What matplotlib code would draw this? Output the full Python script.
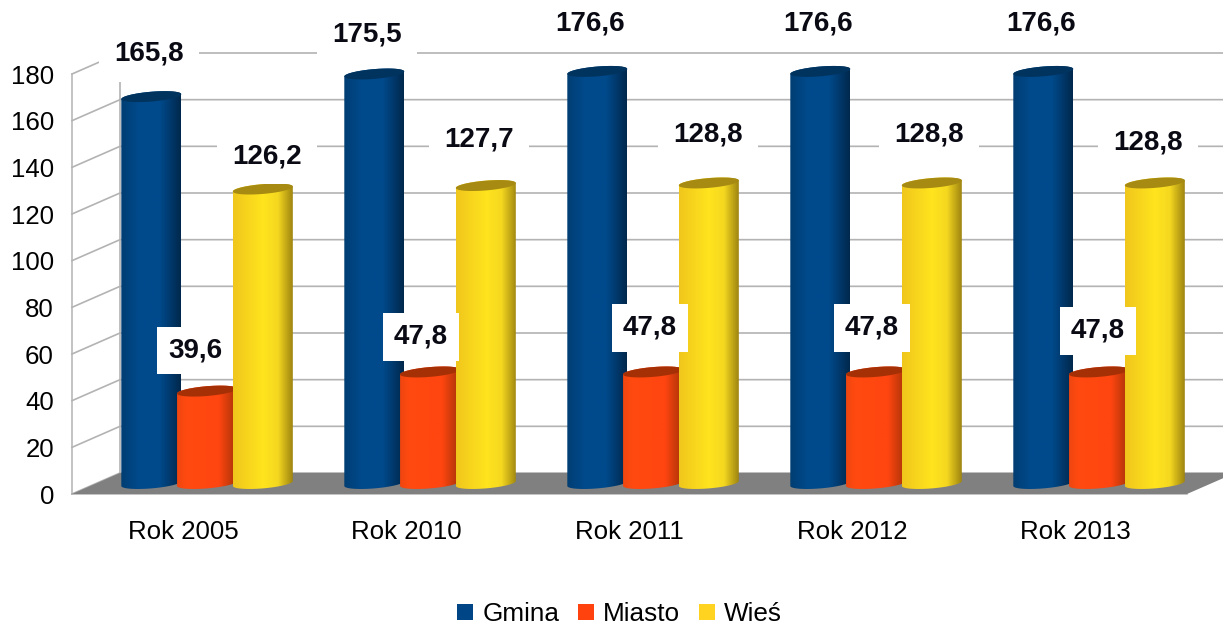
import numpy as np
import matplotlib
matplotlib.use('Agg')
import matplotlib.pyplot as plt
from matplotlib.colors import LinearSegmentedColormap
from matplotlib.patches import Patch, PathPatch, Polygon
from matplotlib.path import Path

plt.rcParams['font.family'] = ['Liberation Sans', 'DejaVu Sans']

categories = ['Rok 2005', 'Rok 2010', 'Rok 2011', 'Rok 2012', 'Rok 2013']
series_names = ['Gmina', 'Miasto', 'Wieś']
gmina = [165.8, 175.5, 176.6, 176.6, 176.6]
miasto = [39.6, 47.8, 47.8, 47.8, 47.8]
wies = [126.2, 127.7, 128.8, 128.8, 128.8]
y_ticks = [0, 20, 40, 60, 80, 100, 120, 140, 160, 180]

W, H = 1223, 625
GRID = '#b3b3b3'

# depth of the fake 3d box, in data units
DEPTH_X = 48 / 223
DEPTH_Y = 9.0
BAR_A = 30 / 223
BAR_B = 2.1
BAR_TILT = 1.05

legend_colors = ['#004586', '#ff420e', '#ffd320']
top_colors = ['#00345f', '#a63006', '#a68a12']
shades = [
    [(0, '#003e73'), (0.3, '#004a8c'), (0.65, '#004a8c'), (1, '#00284c')],
    [(0, '#ee4610'), (0.15, '#ff4a10'), (0.7, '#ff4510'), (1, '#a83408')],
    [(0, '#f0c61c'), (0.5, '#ffe41e'), (0.75, '#f5d820'), (1, '#9e8410')],
]

# label shift from the top of each cylinder, pixels (they wander in the original)
label_dx = [[-2, -7, -7, -2, -2], [-12, -9, -3, -4, -1], [4, -7, -1, -3, -7]]
label_dy = [[43, 40, 48, 48, 48], [41, 35, 44, 44, 41], [33, 46, 48, 48, 40]]
label_pad = [11, 7.5, 11]


def ellipse(cx, cy, t):
    x = cx + BAR_A * np.cos(t)
    y = cy + BAR_B * np.sin(t) + BAR_TILT * np.cos(t)
    return np.column_stack([x, y])


fig = plt.figure(figsize=(W / 100, H / 100), dpi=100)
ax = fig.add_axes([72 / W, 1 - 494 / H, (1187 - 72) / W, (494 - 74) / H])
ax.set_xlim(-0.5, 4.5)
ax.set_ylim(0, 180)

x_pos = np.arange(len(categories))
ax.set_xticks(x_pos)
ax.set_xticklabels(categories, fontsize=18.6)
ax.set_yticks(y_ticks)
ax.set_yticklabels([str(v) for v in y_ticks], fontsize=18.6)
ax.tick_params(axis='x', length=0, pad=19)
ax.tick_params(axis='y', length=0, pad=13)

for name in ['top', 'right']:
    ax.spines[name].set_visible(False)
for name in ['left', 'bottom']:
    ax.spines[name].set_color(GRID)
    ax.spines[name].set_linewidth(1.1)
    ax.spines[name].set_zorder(1)

# walls
x0 = -0.5
x1 = 4.5
for v in y_ticks:
    ax.plot([x0, x0 + DEPTH_X, x1 + DEPTH_X], [v, v + DEPTH_Y, v + DEPTH_Y],
            color=GRID, lw=1.2, clip_on=False, zorder=1)
ax.plot([x0 + DEPTH_X, x0 + DEPTH_X], [DEPTH_Y, 180 + DEPTH_Y], color=GRID, lw=1.2,
        clip_on=False, zorder=1)

# floor
ax.add_patch(Polygon([(x0, 0), (x1, 0), (x1 + DEPTH_X, DEPTH_Y), (x0 + DEPTH_X, DEPTH_Y)],
                     closed=True, facecolor='#808080', edgecolor='none',
                     clip_on=False, zorder=2))

# cylinders
all_series = [gmina, miasto, wies]
for s, values in enumerate(all_series):
    cmap = LinearSegmentedColormap.from_list('shade%d' % s, shades[s])
    for i, v in enumerate(values):
        cx = x_pos[i] + (s - 1) * 0.25 + DEPTH_X / 2 - 0.002
        base = DEPTH_Y / 2
        top = v + DEPTH_Y / 2

        low = ellipse(cx, base, np.linspace(np.pi, 2 * np.pi, 40))
        up = ellipse(cx, top, np.linspace(0, np.pi, 40))
        pts = np.vstack([low, up, low[:1]])
        body = PathPatch(Path(pts), facecolor='none', edgecolor='none',
                         transform=ax.transData)
        ax.add_patch(body)
        im = ax.imshow(np.linspace(0, 1, 128).reshape(1, -1), cmap=cmap, aspect='auto',
                       extent=[cx - BAR_A, cx + BAR_A, base - 5, top + 5],
                       zorder=3 + s, interpolation='bilinear')
        im.set_clip_box(fig.bbox)
        im.set_clip_path(body)

        cap = ellipse(cx, top, np.linspace(0, 2 * np.pi, 80))
        ax.add_patch(Polygon(cap, closed=True, facecolor=top_colors[s], edgecolor='none',
                             clip_on=False, zorder=3 + s))

        ax.annotate(('%.1f' % v).replace('.', ','), xy=(cx, top),
                    xytext=(label_dx[s][i], label_dy[s][i]), textcoords='offset pixels',
                    ha='center', va='center', fontsize=20, fontweight='bold', color='#0a0a14',
                    bbox=dict(boxstyle='square,pad=%.2f' % (label_pad[s] / 20),
                              facecolor='white', edgecolor='none'),
                    annotation_clip=False, zorder=10)

ax.set_xlim(-0.5, 4.5)
ax.set_ylim(0, 180)

handles = [Patch(facecolor=c, edgecolor='none') for c in legend_colors]
fig.legend(handles, series_names, loc='center', bbox_to_anchor=(619.5 / W, 1 - 614 / H),
           ncols=3, frameon=False, fontsize=18.8, handlelength=0.62, handleheight=0.6,
           handletextpad=0.35, columnspacing=0.7, borderpad=0, borderaxespad=0)

fig.savefig('out.png', dpi=100)
